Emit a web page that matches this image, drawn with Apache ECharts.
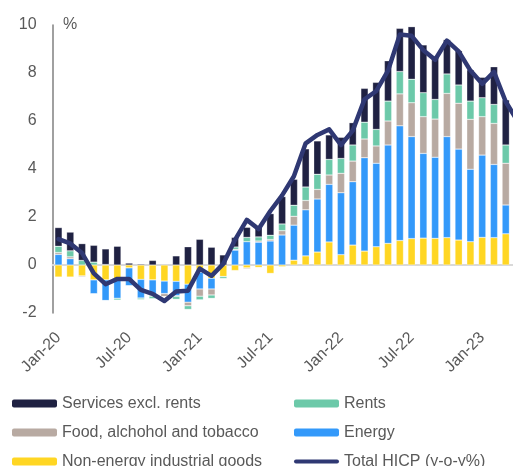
<!DOCTYPE html>
<html><head><meta charset="utf-8">
<script src="https://cdn.jsdelivr.net/npm/echarts@6/dist/echarts.min.js"></script>
<style>html,body{margin:0;padding:0;background:#fff;overflow:hidden;width:513px;height:466px}#c{width:524px;height:466px}</style>
</head><body><div id="c"></div>
<script>
const categories = ['Jan-20','Feb-20','Mar-20','Apr-20','May-20','Jun-20','Jul-20','Aug-20','Sep-20','Oct-20','Nov-20','Dec-20',
  'Jan-21','Feb-21','Mar-21','Apr-21','May-21','Jun-21','Jul-21','Aug-21','Sep-21','Oct-21','Nov-21','Dec-21',
  'Jan-22','Feb-22','Mar-22','Apr-22','May-22','Jun-22','Jul-22','Aug-22','Sep-22','Oct-22','Nov-22','Dec-22',
  'Jan-23','Feb-23','Mar-23','Apr-23'];
const nonEnergyIndustrialGoods = [-0.5,-0.5,-0.46,-0.62,-0.62,-0.62,-0.12,-0.6,-0.62,-0.67,-0.68,-0.8,
  -0.3,-0.55,-0.48,-0.23,-0.12,-0.1,-0.35,-0.07,0.2,0.38,0.54,0.96,
  0.43,0.83,0.58,0.76,0.9,1.02,1.1,1.12,1.11,1.14,1.04,0.97,
  1.15,1.14,1.3,null];
const energy = [0.44,0.26,0,-0.58,-0.86,-0.77,-0.75,-0.78,-0.65,-0.52,-0.6,-0.75,
  -0.7,-0.45,0,0.62,0.97,0.95,1.0,1.25,1.46,1.92,2.21,2.4,
  2.58,2.64,3.89,3.48,4.1,4.78,4.25,3.53,3.38,4.21,3.79,3.02,
  3.43,3.05,1.2,null];
const foodAlcoholTobacco = [0.08,0.08,-0.04,0,0,0,0,0,-0.03,-0.13,-0.03,-0.15,
  -0.3,-0.25,0,0.03,-0.04,0.05,0.06,0.18,0.37,0.39,0.4,0.39,
  0.81,0.86,0.78,0.72,1.0,1.33,1.41,1.53,1.59,1.8,1.91,2.08,
  1.6,1.71,1.74,null];
const rents = [0.26,0.25,0.19,0.12,0.02,-0.07,0,-0.06,-0.1,0,-0.12,-0.15,
  -0.15,-0.14,-0.08,0.1,0.18,0.17,0.18,0.28,0.46,0.56,0.63,0.65,
  0.62,0.67,0.7,0.69,0.83,0.93,0.98,1.0,0.82,0.81,0.76,0.76,
  0.79,0.79,0.76,null];
const servicesExclRents = [0.78,0.78,0.7,0.7,0.65,0.78,0.08,0.04,0.19,0,0.38,0.76,
  1.07,0.74,0.42,0.4,0.42,0.4,0.9,1.14,1.08,1.59,1.39,1.02,
  0.88,0.93,1.41,1.96,1.68,1.8,2.19,1.99,1.8,1.43,1.43,1.3,
  0.85,1.57,1.88,null];
const totalHICP = [1.08,0.9,0.5,-0.35,-0.8,-0.58,-0.58,-1.04,-1.2,-1.5,-1.1,-1.07,
  -0.15,-0.45,0.05,1.05,1.88,1.5,2.25,2.9,3.7,5.07,5.42,5.65,
  5.0,5.6,6.9,7.25,8.1,9.6,9.55,8.95,8.55,9.35,8.9,8.1,
  7.55,8.05,6.8,6.0];
const yTicks = {min:-2, max:10, step:2};
const legendLeftColumn = ['Services excl. rents','Food, alchohol and tobacco','Non-energy industrial goods'];
const legendRightColumn = ['Rents','Energy','Total HICP (y-o-y%)'];

const FONT = '"Liberation Sans", Arial, sans-serif';
const TXT = '#595959';
const colors = {
  services:'#1f2142', rents:'#6cc9a9', food:'#b8aaa2', energy:'#3399fa', neig:'#ffd623', line:'#2f3873'
};
const LINE_NAME = 'Total HICP (y-o-y%)';
const lineIcon = 'path://M2,0 L43,0 A2,2 0 0 1 43,4 L2,4 A2,2 0 0 1 2,0 Z';
function barSeries(name, data, color){
  return {name, type:'bar', stack:'c', data, barWidth:'62%', xAxisIndex:0,
    itemStyle:{color, borderColor:'rgba(255,255,255,0.55)', borderWidth:0.5},
    emphasis:{disabled:true}};
}
const legends = [];
[legendLeftColumn, legendRightColumn].forEach((col, ci) => {
  col.forEach((name, ri) => {
    const item = name === LINE_NAME
      ? {name, icon:lineIcon, itemStyle:{color:colors.line, borderWidth:0}}
      : {name};
    legends.push({left: ci === 0 ? 12 : 294, top: 395.5 + ri*29, orient:'horizontal',
      itemWidth:45, itemHeight:8, itemGap:0, padding:0, symbolKeepAspect:true,
      itemStyle:{borderWidth:0},
      textStyle:{color:TXT, fontSize:16, fontFamily:FONT, lineHeight:16},
      data:[item]});
  });
});
const chart = echarts.init(document.getElementById('c'), null, {renderer:'canvas'});
chart.setOption({
  animation:false,
  textStyle:{fontFamily:FONT},
  grid:{left:52.6, right:0.6, top:25, bottom:153, containLabel:false},
  xAxis:[
    {type:'category', data:categories, axisLine:{onZero:true, lineStyle:{color:'#d9d9d9', width:2}},
     axisTick:{show:false}, axisLabel:{show:false}, z:1},
    {type:'category', data:categories, position:'bottom', axisLine:{show:false, onZero:false},
     axisTick:{show:false},
     axisLabel:{interval:5, rotate:45, color:TXT, fontSize:16, fontFamily:FONT, margin:22}}
  ],
  yAxis:{type:'value', min:yTicks.min, max:yTicks.max, interval:yTicks.step,
    axisLine:{show:true, lineStyle:{color:'#808080', width:1.5}}, axisTick:{show:false},
    splitLine:{show:false}, axisLabel:{color:TXT, fontSize:16, fontFamily:FONT, margin:16}},
  legend:legends,
  graphic:[{type:'text', left:63, top:17, style:{text:'%', fill:TXT, font:'16px '+FONT}}],
  series:[
    barSeries('Non-energy industrial goods', nonEnergyIndustrialGoods, colors.neig),
    barSeries('Energy', energy, colors.energy),
    barSeries('Food, alchohol and tobacco', foodAlcoholTobacco, colors.food),
    barSeries('Rents', rents, colors.rents),
    barSeries('Services excl. rents', servicesExclRents, colors.services),
    {name:LINE_NAME, type:'line', data:totalHICP, xAxisIndex:0, symbol:'none',
     lineStyle:{color:colors.line, width:4.5, cap:'round', join:'round'}, itemStyle:{color:colors.line},
     z:5, emphasis:{disabled:true}}
  ]
});
</script></body></html>
